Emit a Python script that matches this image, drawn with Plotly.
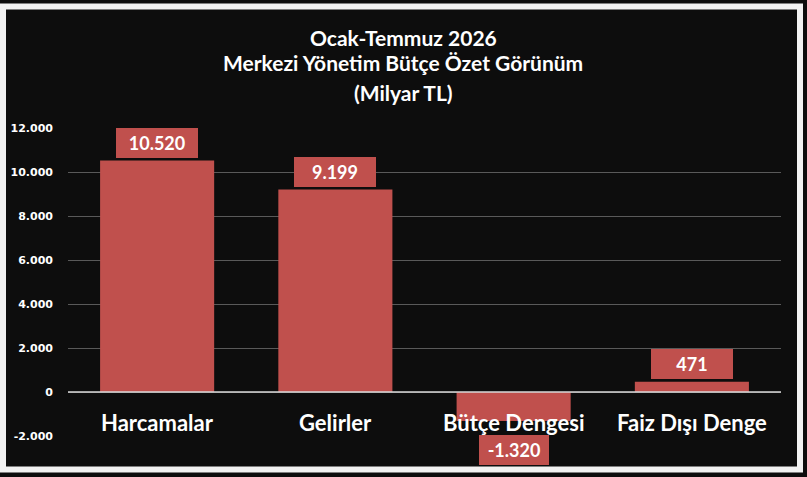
import plotly.graph_objects as go

categories = ["Harcamalar", "Gelirler", "Bütçe Dengesi", "Faiz Dışı Denge"]
values = [10520, 9199, -1320, 471]
tick_vals = [-2000, 0, 2000, 4000, 6000, 8000, 10000, 12000]
tick_text = ["-2.000", "0", "2.000", "4.000", "6.000", "8.000", "10.000", "12.000"]
title_lines = ["Ocak-Temmuz 2026", "Merkezi Yönetim Bütçe Özet Görünüm", "(Milyar TL)"]

BAR = "#C0504D"
BG = "#0d0d0d"
W, H = 807, 477
ML, MR, MT, MB = 68, 26, 128, 41
PW, PH = W - ML - MR, H - MT - MB


def fmt(v):
    s = f"{abs(v):,}".replace(",", ".")
    return ("-" if v < 0 else "") + s


def px_x(p):
    return (p - ML) / PW


def px_y(p):
    return 1 - (p - MT) / PH


fig = go.Figure()
fig.add_trace(go.Bar(x=categories, y=values, marker=dict(color=BAR, line=dict(width=0)),
                     width=0.64, hoverinfo="skip"))

annotations = []
for c, v in zip(categories, values):
    annotations.append(dict(
        x=c, y=v, xref="x", yref="y", text=f"<b>{fmt(v)}</b>", showarrow=False,
        yanchor="bottom" if v >= 0 else "top", yshift=3 if v >= 0 else -14,
        width=62 if v < 0 else 74, height=22,
        bgcolor=BAR, bordercolor=BAR, borderwidth=0, borderpad=4,
        font=dict(family="Lato", size=18, color="white"),
    ))
    annotations.append(dict(
        x=c, y=0, xref="x", yref="y", text=f"<b>{c}</b>", showarrow=False,
        yanchor="middle", yshift=-30,
        font=dict(family="Lato", size=22, color="white"),
    ))

title_y = [37, 63, 92]
for t, yy in zip(title_lines, title_y):
    annotations.append(dict(
        x=px_x(W / 2 - 0.5), y=px_y(yy), xref="paper", yref="paper", text=f"<b>{t}</b>",
        showarrow=False, xanchor="center", yanchor="middle",
        font=dict(family="Lato", size=21, color="white"),
    ))

fig.update_layout(
    width=W, height=H,
    margin=dict(l=ML, r=MR, t=MT, b=MB),
    paper_bgcolor=BG, plot_bgcolor=BG,
    showlegend=False,
    annotations=annotations,
    shapes=[
        dict(type="rect", xref="paper", yref="paper",
             x0=px_x(3), x1=px_x(800), y0=px_y(469.5), y1=px_y(6.5),
             line=dict(color="#f2f2f2", width=6), layer="above"),
        dict(type="line", xref="paper", yref="y", x0=0, x1=1, y0=0, y1=0,
             line=dict(color="#d9d9d9", width=1.5), layer="above"),
    ],
    xaxis=dict(showticklabels=False, showgrid=False, zeroline=False, showline=False,
               range=[-0.5, 3.5], fixedrange=True),
    yaxis=dict(range=[-2000, 12000], tickvals=tick_vals,
               ticktext=[f"<b>{t}</b>" for t in tick_text],
               tickfont=dict(family="DejaVu Sans", size=11, color="white"),
               showgrid=True, gridcolor="#595959", gridwidth=1,
               zeroline=False, showline=False, ticklabelstandoff=14, fixedrange=True),
    bargap=0.36,
)

fig.write_html("out.html", config={"displayModeBar": False},
               post_script="document.body.style.margin='0';document.body.style.background='#1a1a1a';")
